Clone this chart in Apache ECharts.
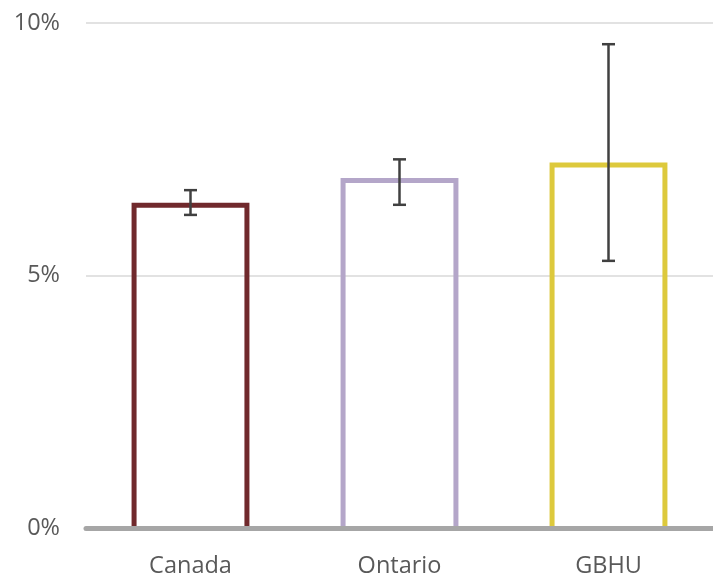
<!DOCTYPE html>
<html>
<head>
<meta charset="utf-8">
<script src="https://cdn.jsdelivr.net/npm/echarts@6/dist/echarts.min.js"></script>
<style>html,body{margin:0;padding:0;background:#fff;}#c{width:713px;height:579px;}</style>
</head>
<body>
<div id="c"></div>
<script>
var categories = ['Canada', 'Ontario', 'GBHU'];
var values = [6.39, 6.88, 7.19];
var errLow = [6.20, 6.40, 5.29];
var errHigh = [6.69, 7.30, 9.58];
var colors = ['#70292C', '#B4A6C9', '#DDC93C'];
var yTicks = [0, 5, 10];

var chart = echarts.init(document.getElementById('c'));
chart.setOption({
  animation: false,
  backgroundColor: '#fff',
  grid: { left: 86, right: 0, top: 23, bottom: 51, containLabel: false },
  xAxis: {
    type: 'category',
    data: categories,
    z: 10,
    axisLine: { lineStyle: { color: '#A6A6A6', width: 5 } },
    axisTick: { show: false },
    axisLabel: { color: '#595959', fontSize: 23.5, fontFamily: 'Open Sans', margin: 26 }
  },
  yAxis: {
    type: 'value',
    min: yTicks[0],
    max: yTicks[yTicks.length - 1],
    interval: 5,
    axisLine: { show: false },
    axisTick: { show: false },
    splitLine: { lineStyle: { color: '#D9D9D9', width: 1.5 } },
    axisLabel: { color: '#595959', fontSize: 23.5, fontFamily: 'Open Sans', margin: 26, formatter: '{value}%' }
  },
  series: [
    {
      type: 'custom',
      z: 2,
      data: categories.map(function (c, i) { return [i, values[i]]; }),
      renderItem: function (params, api) {
        var top = api.coord([api.value(0), api.value(1)]);
        var base = api.coord([api.value(0), 0]);
        var band = api.size([1, 0])[0];
        var w = band * 0.54;
        var x = top[0];
        return {
          type: 'polyline',
          shape: { points: [[x - w / 2, base[1]], [x - w / 2, top[1]], [x + w / 2, top[1]], [x + w / 2, base[1]]] },
          style: { stroke: colors[params.dataIndex], lineWidth: 5, fill: null, lineJoin: 'miter' }
        };
      }
    },
    {
      type: 'custom',
      z: 5,
      data: categories.map(function (c, i) { return [i, errLow[i], errHigh[i]]; }),
      renderItem: function (params, api) {
        var lo = api.coord([api.value(0), api.value(1)]);
        var hi = api.coord([api.value(0), api.value(2)]);
        var x = lo[0];
        var hw = 6.5;
        var st = { stroke: '#404040', lineWidth: 2.5 };
        return {
          type: 'group',
          children: [
            { type: 'line', shape: { x1: x, y1: lo[1], x2: x, y2: hi[1] }, style: st },
            { type: 'line', shape: { x1: x - hw, y1: lo[1], x2: x + hw, y2: lo[1] }, style: st },
            { type: 'line', shape: { x1: x - hw, y1: hi[1], x2: x + hw, y2: hi[1] }, style: st }
          ]
        };
      }
    }
  ]
});
</script>
</body>
</html>
